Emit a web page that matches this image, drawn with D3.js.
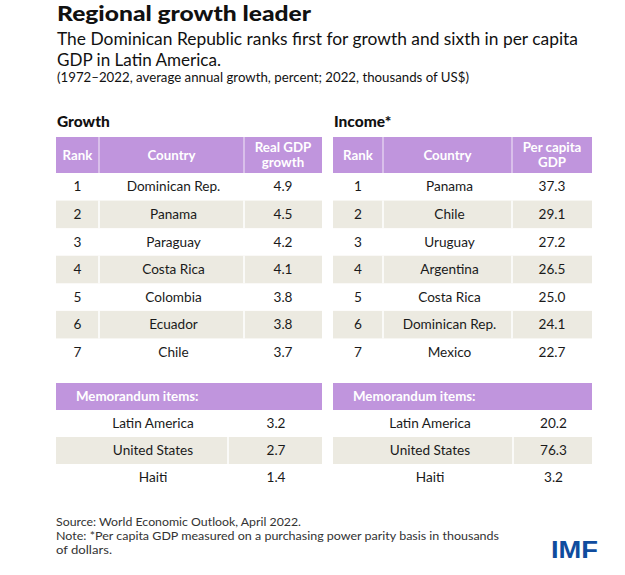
<!DOCTYPE html>
<html><head><meta charset="utf-8">
<script src="https://cdn.jsdelivr.net/npm/d3@7"></script>
<style>body{margin:0;background:#fff;}svg{display:block;}</style>
</head><body>
<script>
// ---- data ----
const ranks = [1,2,3,4,5,6,7];
const growthCountries = ["Dominican Rep.","Panama","Paraguay","Costa Rica","Colombia","Ecuador","Chile"];
const growthValues = [4.9,4.5,4.2,4.1,3.8,3.8,3.7];
const incomeCountries = ["Panama","Chile","Uruguay","Argentina","Costa Rica","Dominican Rep.","Mexico"];
const incomeValues = [37.3,29.1,27.2,26.5,25.0,24.1,22.7];
const memoLabels = ["Latin America","United States","Haiti"];
const memoGrowth = [3.2,2.7,1.4];
const memoIncome = [20.2,76.3,3.2];

const W=625,H=575;
const svg=d3.select("body").append("svg").attr("width",W).attr("height",H);
const font="Lato, 'Open Sans', sans-serif";
const purple="#C095DD", beige="#ECEAE1", ink="#1a1a1a";

function fitText(sel,len){ sel.attr("textLength",len).attr("lengthAdjust","spacingAndGlyphs"); return sel; }

// titles
fitText(svg.append("text").attr("x",57).attr("y",21).attr("font-family",font).attr("font-weight",900)
  .attr("font-size",21.5).attr("fill","#111").text("Regional growth leader"),254);
const sub=["The Dominican Republic ranks first for growth and sixth in per capita","GDP in Latin America."];
const subLen=[521,164];
sub.forEach((t,i)=>fitText(svg.append("text").attr("x",57).attr("y",45+i*21).attr("font-family",font)
  .attr("font-size",17.3).attr("fill","#111").text(t),subLen[i]));
fitText(svg.append("text").attr("x",57).attr("y",81.5).attr("font-family",font).attr("font-size",13)
  .attr("fill","#111").text("(1972\u20132022, average annual growth, percent; 2022, thousands of US$)"),412);

const y=d3.scaleBand().domain(ranks).range([173,366]);
const ym=d3.scaleBand().domain(memoLabels).range([410,491]);

function table(cfg){
  const g=svg.append("g");
  const [x0,x1,x2,x3]=cfg.cols;
  g.append("text").attr("x",x0+1).attr("y",126.5).attr("font-family",font).attr("font-weight",900)
    .attr("font-size",15.5).attr("fill","#111").text(cfg.section);
  // header
  const hdr=[[x0,x1],[x1,x2],[x2,x3]];
  hdr.forEach(([a,b])=>g.append("rect").attr("x",a).attr("y",137).attr("width",b-a).attr("height",36).attr("fill",purple));
  hdr.slice(1).forEach(([a])=>g.append("line").attr("x1",a).attr("x2",a).attr("y1",137).attr("y2",173).attr("stroke","#e9dcf3").attr("stroke-width",1.2));
  const ht=(x,yy,t)=>g.append("text").attr("x",x).attr("y",yy).attr("text-anchor","middle").attr("font-family",font)
     .attr("font-weight",700).attr("font-size",13.3).attr("fill","#fff").text(t);
  ht((x0+x1)/2,159.5,"Rank");
  ht((x1+x2)/2,159.5,"Country");
  ht((x2+x3)/2,151.5,cfg.head[0]); ht((x2+x3)/2,166.5,cfg.head[1]);
  // rows
  ranks.forEach((r,i)=>{
    const yy=y(r), h=y.bandwidth();
    if(i%2===1){
      hdr.forEach(([a,b])=>g.append("rect").attr("x",a).attr("y",yy).attr("width",b-a).attr("height",h).attr("fill",beige));
      hdr.slice(1).forEach(([a])=>g.append("line").attr("x1",a).attr("x2",a).attr("y1",yy).attr("y2",yy+h).attr("stroke","#fff").attr("stroke-width",1.5));
    }
    const cy=yy+h/2+4.7;
    const tt=(x,t)=>g.append("text").attr("x",x).attr("y",cy).attr("text-anchor","middle").attr("font-family",font)
      .attr("font-size",13.6).attr("fill",ink).text(t);
    tt((x0+x1)/2,r); tt((x1+x2)/2+2,cfg.countries[i]); tt((x2+x3)/2,cfg.values[i].toFixed(1));
  });
  // memo
  g.append("rect").attr("x",x0).attr("y",383).attr("width",x3-x0).attr("height",27).attr("fill",purple);
  g.append("text").attr("x",x0+20).attr("y",401).attr("font-family",font).attr("font-weight",700)
    .attr("font-size",13.3).attr("fill","#fff").text("Memorandum items:");
  memoLabels.forEach((m,i)=>{
    const yy=ym(m),h=ym.bandwidth();
    if(i%2===1){
      g.append("rect").attr("x",x0).attr("y",yy).attr("width",x3-x0).attr("height",h).attr("fill",beige);
      g.append("line").attr("x1",cfg.memoDiv).attr("x2",cfg.memoDiv).attr("y1",yy).attr("y2",yy+h).attr("stroke","#fff").attr("stroke-width",1.5);
    }
    const cy=yy+h/2+4.7;
    g.append("text").attr("x",x0+97).attr("y",cy).attr("text-anchor","middle").attr("font-family",font)
      .attr("font-size",13.6).attr("fill",ink).text(m);
    g.append("text").attr("x",(cfg.memoDiv+x3)/2+1).attr("y",cy).attr("text-anchor","middle").attr("font-family",font)
      .attr("font-size",13.6).attr("fill",ink).text(cfg.memo[i].toFixed(1));
  });
}
table({section:"Growth",cols:[56,99,244,322],head:["Real GDP","growth"],countries:growthCountries,values:growthValues,memo:memoGrowth,memoDiv:228});
table({section:"Income*",cols:[333,383,512,592],head:["Per capita","GDP"],countries:incomeCountries,values:incomeValues,memo:memoIncome,memoDiv:513});

// footer
const foot=["Source: World Economic Outlook, April 2022.","Note: *Per capita GDP measured on a purchasing power parity basis in thousands","of dollars."];
const footLen=[245,443,56];
foot.forEach((t,i)=>fitText(svg.append("text").attr("x",56).attr("y",526+i*14.2).attr("font-family",font)
  .attr("font-size",12).attr("fill","#333").text(t),footLen[i]));
fitText(svg.append("text").attr("x",551).attr("y",558).attr("font-family","'Liberation Sans', Arial, sans-serif").attr("font-weight",700)
  .attr("font-size",24).attr("fill","#0F4C9E").text("IMF"),47);
</script>
</body></html>
